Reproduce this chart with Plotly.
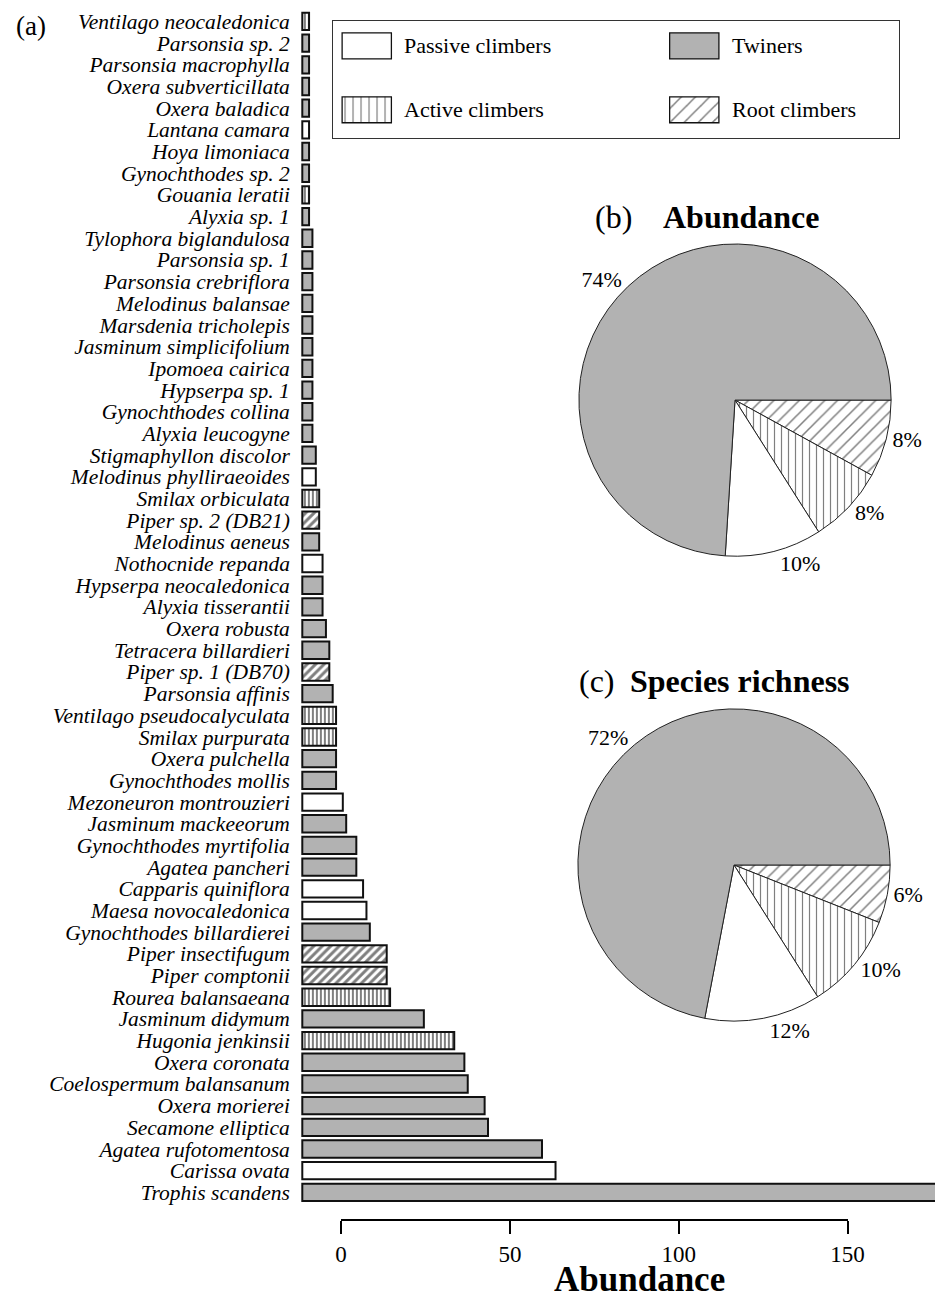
import plotly.graph_objects as go

# the html page adds an 8px body margin: page positions are shifted by 8 and
# the figure runs just past the window on the right, as the long bar does
PAGE_OFF = 8
W, H = 944, 1290
XSTRETCH = 0.03   # small horizontal correction for the right-hand panels

# ---- data -------------------------------------------------------------
species = [
    "Ventilago neocaledonica", "Parsonsia sp. 2", "Parsonsia macrophylla",
    "Oxera subverticillata", "Oxera baladica", "Lantana camara",
    "Hoya limoniaca", "Gynochthodes sp. 2", "Gouania leratii", "Alyxia sp. 1",
    "Tylophora biglandulosa", "Parsonsia sp. 1", "Parsonsia crebriflora",
    "Melodinus balansae", "Marsdenia tricholepis", "Jasminum simplicifolium",
    "Ipomoea cairica", "Hypserpa sp. 1", "Gynochthodes collina",
    "Alyxia leucogyne", "Stigmaphyllon discolor", "Melodinus phylliraeoides",
    "Smilax orbiculata", "Piper sp. 2 (DB21)", "Melodinus aeneus",
    "Nothocnide repanda", "Hypserpa neocaledonica", "Alyxia tisserantii",
    "Oxera robusta", "Tetracera billardieri", "Piper sp. 1 (DB70)",
    "Parsonsia affinis", "Ventilago pseudocalyculata", "Smilax purpurata",
    "Oxera pulchella", "Gynochthodes mollis", "Mezoneuron montrouzieri",
    "Jasminum mackeeorum", "Gynochthodes myrtifolia", "Agatea pancheri",
    "Capparis quiniflora", "Maesa novocaledonica", "Gynochthodes billardierei",
    "Piper insectifugum", "Piper comptonii", "Rourea balansaeana",
    "Jasminum didymum", "Hugonia jenkinsii", "Oxera coronata",
    "Coelospermum balansanum", "Oxera morierei", "Secamone elliptica",
    "Agatea rufotomentosa", "Carissa ovata", "Trophis scandens",
]
# bar lengths (Trophis runs off the page; estimated from the pie share)
abundance = [
    2, 2, 2, 2, 2, 2, 2, 2, 2, 2,
    3, 3, 3, 3, 3, 3, 3, 3, 3, 3,
    4, 4, 5, 5, 5, 6, 6, 6, 7, 8,
    8, 9, 10, 10, 10, 10, 12, 13, 16, 16,
    18, 19, 20, 25, 25, 26, 36, 45, 48, 49,
    54, 55, 71, 75, 364,
]
growth_form = [
    "Active climbers", "Twiners", "Twiners", "Twiners", "Twiners",
    "Passive climbers", "Twiners", "Twiners", "Active climbers", "Twiners",
    "Twiners", "Twiners", "Twiners", "Twiners", "Twiners",
    "Twiners", "Twiners", "Twiners", "Twiners", "Twiners",
    "Twiners", "Passive climbers", "Active climbers", "Root climbers", "Twiners",
    "Passive climbers", "Twiners", "Twiners", "Twiners", "Twiners",
    "Root climbers", "Twiners", "Active climbers", "Active climbers", "Twiners",
    "Twiners", "Passive climbers", "Twiners", "Twiners", "Twiners",
    "Passive climbers", "Passive climbers", "Twiners", "Root climbers", "Root climbers",
    "Active climbers", "Twiners", "Active climbers", "Twiners", "Twiners",
    "Twiners", "Twiners", "Twiners", "Passive climbers", "Twiners",
]

legend_forms = ["Passive climbers", "Twiners", "Active climbers", "Root climbers"]

pie_forms = ["Root climbers", "Active climbers", "Passive climbers", "Twiners"]
pie_abundance_pct = [8, 8, 10, 74]
pie_richness_pct = [6, 10, 12, 72]

axis_ticks = [0, 50, 100, 150]

# ---- styles -----------------------------------------------------------
FONT = "Liberation Serif, Times New Roman, serif"
GRAY = "#b2b2b2"
FORM_FILL = {
    "Passive climbers": ("white", ""),
    "Twiners": (GRAY, ""),
    "Active climbers": ("white", "|"),
    "Root climbers": ("white", "/"),
}


def tx(p):
    # stretch page x positions right of the bar origin a little
    return p + max(p - 300, 0) * XSTRETCH


def px_x(p):
    # page pixel -> paper fraction
    return (tx(p) - PAGE_OFF) / W


def px_y(p):
    return 1 - (p - PAGE_OFF) / H


def marker_for(form, pat_size, line_w, solidity):
    color, shape = FORM_FILL[form]
    m = dict(color=color, line=dict(color="#111", width=line_w))
    if shape:
        m["pattern"] = dict(shape=shape, size=pat_size, solidity=solidity,
                            fgcolor="black", fillmode="overlay")
    return m


fig = go.Figure()

# ---- (a) bar chart ----------------------------------------------------
BAR_SCALE = 3.36 * (1 + XSTRETCH)     # px per abundance unit
BAR_LEFT, BAR_ZERO = 300, 303.5
bar_pat = {"Active climbers": 4, "Root climbers": 6}
for form in legend_forms:
    ys = [s for s, f in zip(species, growth_form) if f == form]
    xs = [a for a, f in zip(abundance, growth_form) if f == form]
    fig.add_trace(go.Bar(
        y=ys, x=xs, orientation="h", xaxis="x", yaxis="y",
        marker=marker_for(form, bar_pat.get(form, 6), 2, 0.5),
        showlegend=False, name=form,
    ))

# invisible trace to carry the detached abundance axis
fig.add_trace(go.Scatter(
    x=axis_ticks, y=[0] * len(axis_ticks), xaxis="x2", yaxis="y2",
    mode="markers", marker=dict(opacity=0), hoverinfo="skip", showlegend=False,
))

# ---- legend box (own subplot, pixel-like units) ------------------------
LEG_L, LEG_R, LEG_T, LEG_B = 334, 897, 20, 137
leg_w = tx(LEG_R) - tx(LEG_L)
SW_W, SW_H = 50.5, 26
leg_slots = {
    "Passive climbers": (9.3, 25), "Twiners": (345, 25),
    "Active climbers": (9.3, 89), "Root climbers": (345, 89),
}
leg_pat = {"Active climbers": 8, "Root climbers": 10}
annotations = []
for form in legend_forms:
    x0, yc = leg_slots[form]
    fig.add_trace(go.Bar(
        y=[yc], x=[SW_W], base=[x0], width=[SW_H], orientation="h",
        xaxis="x3", yaxis="y3",
        marker=marker_for(form, leg_pat.get(form, 8), 1.3, 0.15),
        showlegend=False, hoverinfo="skip",
    ))
    annotations.append(dict(
        x=x0 + SW_W + 11, y=yc, xref="x3", yref="y3", text=form,
        showarrow=False, xanchor="left", yanchor="middle",
        font=dict(size=22, family=FONT, color="black"),
    ))

# ---- pies -------------------------------------------------------------
R = 160


def pie_domain(cx, cy):
    c = tx(cx)
    return dict(x=[(c - R - PAGE_OFF) / W, (c + R - PAGE_OFF) / W],
                y=[px_y(cy + R), px_y(cy - R)])


def pie_trace(values, cx, cy):
    colors = [FORM_FILL[f][0] for f in pie_forms]
    shapes = [FORM_FILL[f][1] for f in pie_forms]
    return go.Pie(
        labels=pie_forms, values=values, sort=False, direction="clockwise",
        rotation=90, domain=pie_domain(cx, cy),
        marker=dict(colors=colors, line=dict(color="#222", width=1),
                    pattern=dict(shape=shapes, size=[9, 7, 8, 8], solidity=0.17,
                                 fgcolor="black", fillmode="overlay")),
        textposition="outside", texttemplate="%{percent:.0%}",
        textfont=dict(size=22, family=FONT, color="black"),
        showlegend=False, hoverinfo="label+percent",
    )


fig.add_trace(pie_trace(pie_abundance_pct, 734, 400))
fig.add_trace(pie_trace(pie_richness_pct, 733, 866))

# ---- text -------------------------------------------------------------
def note(text, x, y, size, anchor="left", vanchor="middle"):
    annotations.append(dict(
        x=px_x(x), y=px_y(y), xref="paper", yref="paper", text=text,
        showarrow=False, xanchor=anchor, yanchor=vanchor,
        font=dict(size=size, family=FONT, color="black"),
    ))


note("(a)", 8, 8, 27, vanchor="top")
note("(b)", 593, 216, 32)
note("<b>Abundance</b>", 660, 216, 32)
note("(c)", 577, 682, 32)
note("<b>Species richness</b>", 628, 682, 32)
note("<b>Abundance</b>", 639, 1281, 35, anchor="center")

hidden = dict(showline=False, showgrid=False, zeroline=False,
              showticklabels=False, ticks="")
box = dict(showline=True, mirror=True, linecolor="#333", linewidth=1,
           showgrid=False, zeroline=False, showticklabels=False, ticks="")

bar_x0 = -(BAR_ZERO - BAR_LEFT) / BAR_SCALE
bar_x1 = (PAGE_OFF + W - BAR_ZERO) / BAR_SCALE

fig.update_layout(
    width=W, height=H,
    margin=dict(l=0, r=0, t=0, b=0),
    paper_bgcolor="white", plot_bgcolor="white",
    font=dict(family=FONT, color="black"),
    barmode="overlay", bargap=0.2,
    xaxis=dict(domain=[px_x(BAR_LEFT), 1], range=[bar_x0, bar_x1], anchor="y",
               **hidden),
    yaxis=dict(
        domain=[px_y(1205), px_y(9.6)], anchor="x", type="category",
        categoryorder="array", categoryarray=species, autorange="reversed",
        tickvals=species, ticktext=[f"<i>{s}</i>" for s in species],
        tickfont=dict(size=21.5, family=FONT, color="black"),
        ticks="", ticklabelstandoff=8, showline=False, showgrid=False,
        zeroline=False,
    ),
    xaxis2=dict(
        domain=[px_x(342), px_x(846)], range=[0, 150], anchor="y2",
        tickvals=axis_ticks, ticks="outside", ticklen=13, tickwidth=2,
        tickcolor="black", showline=True, linewidth=2, linecolor="black",
        showgrid=False, zeroline=False,
        tickfont=dict(size=23, family=FONT, color="black"),
    ),
    yaxis2=dict(domain=[px_y(1221), px_y(1221) + 0.004], range=[0, 1],
                anchor="x2", **hidden),
    xaxis3=dict(domain=[px_x(LEG_L), px_x(LEG_R)], range=[0, leg_w],
                anchor="y3", **box),
    yaxis3=dict(domain=[px_y(LEG_B), px_y(LEG_T)], range=[LEG_B - LEG_T, 0],
                anchor="x3", type="linear", **box),
    annotations=annotations,
)

fig.write_html("out.html")
